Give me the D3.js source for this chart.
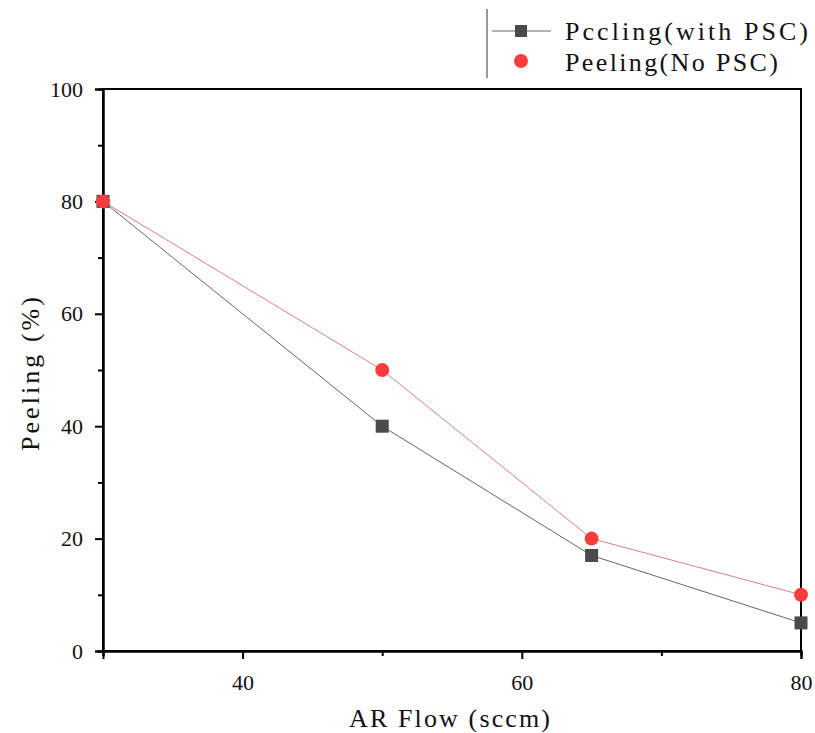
<!DOCTYPE html>
<html><head><meta charset="utf-8">
<script src="https://cdn.jsdelivr.net/npm/d3@7"></script>
<style>body{margin:0;background:#fff}</style>
</head><body>
<svg id="c" width="815" height="733"></svg>
<script>
const flow = [30, 50, 65, 80];
const withPSC = [80, 40, 17, 5];
const noPSC = [80, 50, 20, 10];
const xTicks = [40, 60, 80];
const xMinor = [30, 50, 70];
const yTicks = [0, 20, 40, 60, 80, 100];
const yMinor = [10, 30, 50, 70, 90];
const seriesNames = ["Pccling(with PSC)", "Peeling(No PSC)"];
const xTitle = "AR Flow (sccm)";
const yTitle = "Peeling (%)";

const svg = d3.select("#c");
const L = 103, R = 801, T = 89, B = 651;
const x = d3.scaleLinear().domain([30, 80]).range([L, R]);
const y = d3.scaleLinear().domain([0, 100]).range([B, T]);
const serif = "'Liberation Serif', 'Times New Roman', serif";

svg.append("rect").attr("x", L).attr("y", T).attr("width", R - L).attr("height", B - T)
  .attr("fill", "none").attr("stroke", "#000").attr("stroke-width", 2);

const xa = svg.append("g").attr("transform", `translate(0,${B})`)
  .call(d3.axisBottom(x).tickValues(xTicks).tickSize(8).tickPadding(15).tickFormat(d3.format("d")));
const xm = svg.append("g").attr("transform", `translate(0,${B})`)
  .call(d3.axisBottom(x).tickValues(xMinor).tickSize(5).tickFormat(""));
const ya = svg.append("g").attr("transform", `translate(${L},0)`)
  .call(d3.axisLeft(y).tickValues(yTicks).tickSize(8).tickPadding(12).tickFormat(d3.format("d")));
const ym = svg.append("g").attr("transform", `translate(${L},0)`)
  .call(d3.axisLeft(y).tickValues(yMinor).tickSize(5).tickFormat(""));
[xa, xm, ya, ym].forEach(g => {
  g.select(".domain").attr("stroke", "#000").attr("stroke-width", 2);
  g.selectAll(".tick line").attr("stroke", "#000").attr("stroke-width", 2);
  g.selectAll("text").attr("font-family", serif).attr("font-size", 22).attr("fill", "#111");
});

svg.append("text").attr("x", 349).attr("y", 727)
  .attr("font-family", serif).attr("font-size", 26).attr("fill", "#111")
  .attr("textLength", 201).attr("lengthAdjust", "spacing").text(xTitle);
svg.append("text").attr("transform", `translate(39,451) rotate(-90)`)
  .attr("font-family", serif).attr("font-size", 26).attr("fill", "#111")
  .attr("textLength", 154).attr("lengthAdjust", "spacing").text(yTitle);

const d1 = flow.map((f, i) => [f, withPSC[i]]);
const d2 = flow.map((f, i) => [f, noPSC[i]]);
const line = d3.line().x(d => x(d[0])).y(d => y(d[1]));
svg.append("path").attr("d", line(d1)).attr("fill", "none").attr("stroke", "#666").attr("stroke-width", 1);
svg.append("path").attr("d", line(d2)).attr("fill", "none").attr("stroke", "#d98080").attr("stroke-width", 1);
svg.selectAll(".sq").data(d1).enter().append("rect")
  .attr("x", d => x(d[0]) - 6.5).attr("y", d => y(d[1]) - 6.5).attr("width", 13).attr("height", 13)
  .attr("fill", "#4a4a4a");
svg.selectAll(".ci").data(d2).enter().append("circle")
  .attr("cx", d => x(d[0])).attr("cy", d => y(d[1])).attr("r", 7).attr("fill", "#ff3b3b");

const lg = svg.append("g");
lg.append("line").attr("x1", 487).attr("x2", 487).attr("y1", 9).attr("y2", 78).attr("stroke", "#555").attr("stroke-width", 1.2);
lg.append("line").attr("x1", 492).attr("x2", 551).attr("y1", 31).attr("y2", 31).attr("stroke", "#666").attr("stroke-width", 1);
lg.append("rect").attr("x", 515).attr("y", 25).attr("width", 12).attr("height", 12).attr("fill", "#4a4a4a");
lg.append("circle").attr("cx", 521).attr("cy", 61).attr("r", 7).attr("fill", "#ff3b3b");
lg.append("text").attr("x", 565).attr("y", 40).attr("font-family", serif).attr("font-size", 26).attr("fill", "#111")
  .attr("textLength", 243).attr("lengthAdjust", "spacing").text(seriesNames[0]);
lg.append("text").attr("x", 565).attr("y", 71).attr("font-family", serif).attr("font-size", 26).attr("fill", "#111")
  .attr("textLength", 213).attr("lengthAdjust", "spacing").text(seriesNames[1]);
</script>
</body></html>
